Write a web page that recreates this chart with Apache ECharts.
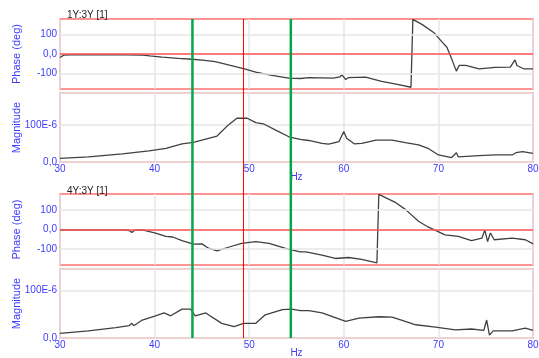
<!DOCTYPE html>
<html>
<head>
<meta charset="utf-8">
<script src="https://cdn.jsdelivr.net/npm/echarts@6/dist/echarts.min.js"></script>
<style>
  html, body { margin: 0; padding: 0; background: #fff; }
  #chart { width: 539px; height: 358px; }
</style>
</head>
<body>
<div id="chart"></div>
<script>
// --- data ---
var titles = ['1Y:3Y [1]', '4Y:3Y [1]'];

var phase1Hz = [30.0, 30.4, 31, 33, 35, 37, 38.7, 39.5, 40.8, 42.5, 44.0, 45.3, 46.4, 47.8, 49.5, 50.7, 52.4, 54.2, 55.4, 56.3, 58.9, 59.6, 59.8, 60.2, 60.5, 62.3, 64.0, 65.8, 67.1, 67.3, 67.3, 68.3, 69.5, 70.4, 70.9, 71.4, 71.9, 72.2, 72.9, 74.3, 76.0, 77.6, 78.1, 78.3, 79.0, 80.0];
var phase1Deg = [-18, -6, -4, -4, -4, -5, -6, -10, -16, -22, -27, -33, -39, -56, -76, -93, -110, -124, -126, -122, -124, -118, -107, -131, -121, -119, -141, -158, -171, -175, 178, 151, 111, 61, 35, -25, -88, -59, -59, -76, -69, -68, -30, -59, -76, -76];

var mag1Hz = [30, 33, 36.6, 39.4, 41.2, 42.9, 44.1, 45.0, 46.6, 47.8, 48.7, 49.8, 50.7, 51.5, 52.8, 54.2, 55.4, 56.3, 57.7, 58.4, 59.5, 60.0, 60.3, 61.1, 61.9, 63.4, 65.1, 66.5, 67.9, 68.9, 70.0, 71.4, 71.9, 72.1, 74.3, 76.0, 77.8, 78.2, 78.9, 80.0];
var mag1Val = [10, 14, 22, 30, 37, 49, 53, 59, 70, 100, 118, 118, 106, 103, 86, 68, 61, 58, 50, 48, 55, 82, 64, 49, 50, 59, 59, 52, 46, 37, 19, 12, 25, 14, 17, 19, 19, 25, 28, 23];

var phase2Hz = [30, 33, 36.6, 37.3, 37.6, 37.9, 38.7, 40.1, 41.2, 41.9, 42.9, 44.1, 45.0, 45.7, 46.6, 47.8, 49.2, 50.7, 52.1, 54.2, 55.4, 56.0, 57.7, 59.1, 60.5, 61.9, 63.5, 63.7, 63.7, 65.5, 66.5, 67.9, 68.9, 70.7, 72.1, 73.5, 74.6, 74.9, 75.2, 75.5, 75.9, 77.8, 79.2, 80.0];
var phase2Deg = [-2, -2, -2, -5, -15, -3, -2, -18, -35, -38, -56, -74, -73, -95, -108, -90, -70, -61, -70, -101, -113, -113, -130, -147, -142, -152, -169, -176, 178, 136, 102, 42, 13, -27, -35, -56, -44, -2, -61, -18, -52, -44, -52, -73];

var mag2Hz = [30, 33, 35.9, 37.3, 37.6, 37.8, 38.7, 40.1, 41.0, 41.7, 42.9, 43.8, 44.3, 45.4, 47.1, 48.4, 49.4, 50.7, 51.7, 53.5, 54.5, 55.4, 56.3, 57.7, 59.1, 60.2, 61.6, 63.7, 65.1, 66.5, 67.6, 69.7, 71.8, 73.5, 74.8, 75.1, 75.4, 75.8, 77.8, 79.2, 80.0];
var mag2Val = [10, 15, 22, 26, 31, 26, 38, 47, 53, 47, 61, 61, 47, 53, 31, 24, 31, 31, 49, 60, 61, 58, 58, 53, 43, 35, 42, 45, 44, 35, 28, 23, 17, 19, 16, 38, 6, 15, 15, 21, 16];

var hzRange = [30, 80];
var phaseRange = [-180, 180];
var phaseTicks = [-100, 0, 100];
var magMax = [186, 146];   // in units of 1E-6
var cursorHz = [44.0, 54.4];
var refHz = 49.4;

// --- styles ---
var blue = '#3c3cff';
var border = '#ff7070';
var gridGray = '#e6e6e6';
var curve = '#404040';
var font = 'Liberation Sans';

function pairs(xs, ys) {
  return xs.map(function(x, i) { return [x, ys[i]]; });
}

function phaseLabel(v) {
  if (v === 0) return '0,0';
  return phaseTicks.indexOf(v) >= 0 ? String(v) : '';
}
function magLabel(v) {
  if (v === 0) return '0,0';
  return v === 100 ? '100E-6' : '';
}

var grids = [
  { left: 60, right: 6, top: 19, height: 70 },
  { left: 60, right: 6, top: 93, height: 69 },
  { left: 60, right: 6, top: 194, height: 71 },
  { left: 60, right: 6, top: 269, height: 69 }
].map(function(g) {
  g.show = true;
  g.borderColor = border;
  g.borderWidth = 1.5;
  g.backgroundColor = '#fff';
  g.containLabel = false;
  g.outerBoundsMode = 'none';
  return g;
});
// overlay grid for the cursor lines spanning all panels
grids.push({ left: 60, right: 6, top: 19, bottom: 20, show: false, containLabel: false, outerBoundsMode: 'none' });

var xAxes = [0, 1, 2, 3].map(function(i) {
  var bottom = (i === 1 || i === 3);
  return {
    type: 'value', gridIndex: i, min: hzRange[0], max: hzRange[1], interval: 10,
    axisLine: { show: false }, axisTick: { show: false },
    axisLabel: { show: bottom, color: blue, fontSize: 10, fontFamily: font, margin: 2 },
    splitLine: { show: true, lineStyle: { color: gridGray, width: 1.5 } },
    name: bottom ? 'Hz' : '', nameLocation: 'middle', nameGap: 10, nameMoveOverlap: false,
    nameTextStyle: { color: blue, fontSize: 10, fontFamily: font }
  };
});
xAxes.push({ type: 'value', gridIndex: 4, min: hzRange[0], max: hzRange[1], show: false });

var yAxes = [0, 1, 2, 3].map(function(i) {
  var isPhase = (i % 2 === 0);
  var ax = {
    type: 'value', gridIndex: i,
    axisLine: { show: false }, axisTick: { show: false },
    axisLabel: { color: blue, fontSize: 10, fontFamily: font, margin: 3,
      formatter: isPhase ? phaseLabel : magLabel },
    name: isPhase ? 'Phase (deg)' : 'Magnitude',
    nameLocation: 'middle', nameGap: 38, nameRotate: 90, nameMoveOverlap: false,
    nameTextStyle: { color: blue, fontSize: 11, fontFamily: font }
  };
  if (isPhase) {
    ax.min = phaseRange[0]; ax.max = phaseRange[1]; ax.interval = 20;
    ax.splitLine = { show: false };
  } else {
    ax.min = 0; ax.max = magMax[(i - 1) / 2]; ax.interval = 100;
    ax.splitLine = { show: true, lineStyle: { color: gridGray, width: 1.5 } };
  }
  return ax;
});
yAxes.push({ type: 'value', gridIndex: 4, min: 0, max: 1, show: false });

function phaseGuides() {
  return {
    silent: true, symbol: 'none', label: { show: false }, animation: false,
    data: [
      { yAxis: 100, lineStyle: { color: gridGray, width: 1.5, type: 'solid' } },
      { yAxis: -100, lineStyle: { color: gridGray, width: 1.5, type: 'solid' } },
      { yAxis: 0, lineStyle: { color: '#ff5050', width: 1.5, type: 'solid' } }
    ]
  };
}

function curveSeries(idx, data, guides) {
  var s = {
    type: 'line', xAxisIndex: idx, yAxisIndex: idx, data: data,
    showSymbol: false, symbol: 'none',
    lineStyle: { color: curve, width: 1.3 }
  };
  if (guides) s.markLine = phaseGuides();
  return s;
}

var series = [
  curveSeries(0, pairs(phase1Hz, phase1Deg), true),
  curveSeries(1, pairs(mag1Hz, mag1Val), false),
  curveSeries(2, pairs(phase2Hz, phase2Deg), true),
  curveSeries(3, pairs(mag2Hz, mag2Val), false)
];
cursorHz.forEach(function(hz) {
  series.push({
    type: 'line', xAxisIndex: 4, yAxisIndex: 4, z: 5,
    data: [[hz, 0], [hz, 1]], symbol: 'none',
    lineStyle: { color: '#00a84a', width: 2.5 }
  });
});
series.push({
  type: 'line', xAxisIndex: 4, yAxisIndex: 4, z: 5,
  data: [[refHz, 0], [refHz, 1]], symbol: 'none',
  lineStyle: { color: '#ff0000', width: 1 }
});

var chart = echarts.init(document.getElementById('chart'), null, { renderer: 'canvas' });
chart.setOption({
  backgroundColor: '#fff',
  animation: false,
  title: [
    { text: titles[0], left: 62, top: 5, textStyle: { fontSize: 10, fontWeight: 'normal', color: '#222', fontFamily: font } },
    { text: titles[1], left: 62, top: 181, textStyle: { fontSize: 10, fontWeight: 'normal', color: '#222', fontFamily: font } }
  ],
  grid: grids,
  xAxis: xAxes,
  yAxis: yAxes,
  series: series
});
window.addEventListener('resize', function() { chart.resize(); });
</script>
</body>
</html>
